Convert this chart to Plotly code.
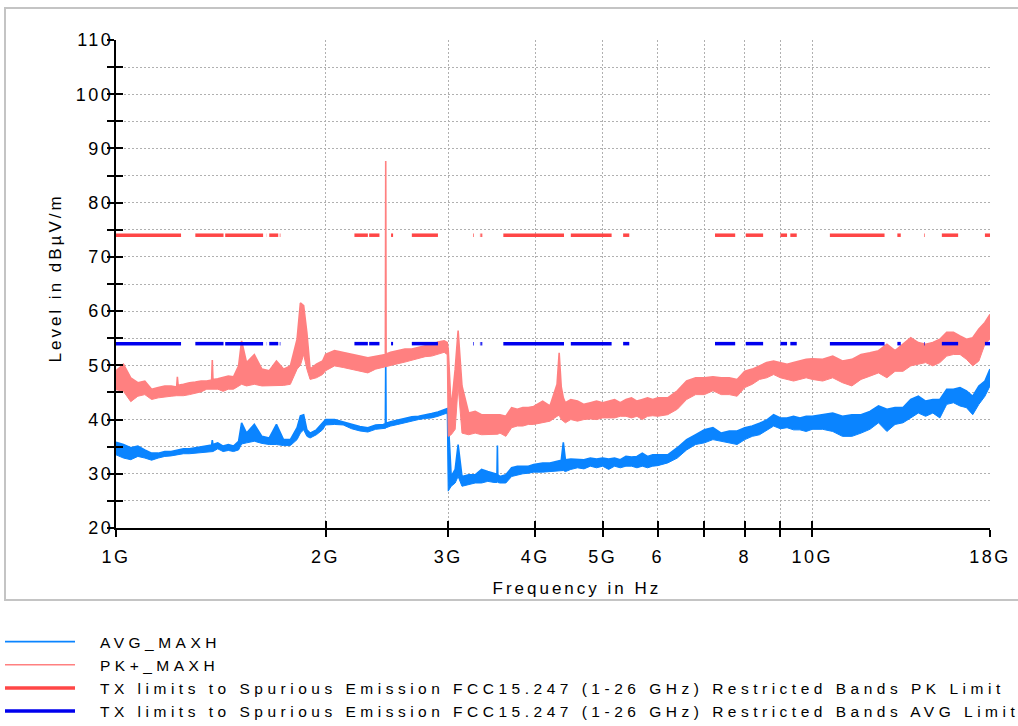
import numpy as np
import plotly.graph_objects as go

# ---------------- data ----------------
freq_ghz = [
    1.000, 1.025, 1.050, 1.075, 1.100, 1.125, 1.150, 1.175, 1.200,
    1.222, 1.225, 1.228, 1.250, 1.275, 1.300, 1.325, 1.350, 1.372, 1.375, 1.378, 1.400, 1.425, 1.450, 1.475,
    1.500, 1.515, 1.540, 1.580, 1.620, 1.660, 1.700, 1.740, 1.780, 1.820, 1.840, 1.860, 1.880, 1.900, 1.940, 1.980,
    2.000, 2.060, 2.120, 2.180, 2.240, 2.300, 2.360, 2.420,
    2.437, 2.440, 2.443, 2.480, 2.540, 2.600, 2.660, 2.720, 2.780, 2.840, 2.900, 2.960, 2.990,
    3.000, 3.030, 3.070, 3.100, 3.140, 3.210, 3.280, 3.350, 3.420, 3.490,
    3.525, 3.530, 3.535, 3.560, 3.630, 3.700, 3.770, 3.840, 3.910, 3.980,
    4.100, 4.200, 4.300, 4.330, 4.360, 4.390, 4.420,
    4.5, 4.6, 4.7, 4.8, 4.9, 5.0, 5.1, 5.2, 5.3, 5.4, 5.5, 5.6, 5.7, 5.8, 5.9, 6.0,
    6.2, 6.4, 6.6, 6.8, 7.0, 7.2, 7.4, 7.6, 7.8, 8.0, 8.2, 8.4, 8.6, 8.8, 9.0, 9.2, 9.4, 9.6, 9.8, 10.0,
    10.35, 10.7, 11.05, 11.4, 11.75, 12.1, 12.45, 12.8, 13.15, 13.5, 13.85, 14.2, 14.55, 14.9, 15.25,
    15.6, 15.95, 16.3, 16.65, 17.0, 17.35, 17.7, 18.0,
]

# PK+_MAXH trace: upper / lower edge of the noisy band (dBuV/m)
pk_hi = [
    49.0, 50.2, 47.7, 46.8, 47.1, 45.6, 45.9, 46.2, 46.2,
    46.0, 47.9, 46.3, 46.5, 46.8, 46.9, 47.1, 47.1, 47.3, 51.0, 47.4, 47.5, 47.7, 48.0, 47.9,
    49.9, 54.5, 50.5, 52.0, 49.3, 49.0, 50.8, 49.3, 49.9, 54.8, 61.5, 61.0, 56.0, 49.3, 50.2, 50.8,
    52.0, 52.7, 52.4, 52.0, 51.7, 51.4, 51.7, 52.0,
    52.0, 87.7, 52.1, 52.4, 52.7, 53.0, 53.0, 53.3, 53.6, 53.7, 54.3, 54.5, 54.2,
    53.0, 41.9, 49.3, 56.4, 46.2, 41.2, 41.5, 40.9, 40.9, 40.9,
    41.0, 41.0, 41.0, 40.9, 40.6, 42.2, 41.9, 42.2, 42.2, 42.4,
    43.4, 42.5, 46.5, 52.3, 46.0, 44.0, 43.1,
    43.7, 43.4, 42.8, 43.1, 43.4, 43.1, 43.4, 43.7, 43.1, 43.7, 44.0, 43.4, 43.7, 44.0, 43.7, 44.0,
    44.0, 45.3, 47.1, 47.7, 47.7, 47.9, 47.7, 47.7, 47.4, 48.9, 49.3, 49.9, 50.5, 50.8, 50.5, 50.2, 50.5, 50.8, 51.1, 51.2,
    51.1, 51.7, 50.8, 51.1, 52.0, 52.3, 52.7, 53.9, 52.7, 53.9, 55.1, 54.2, 53.9, 54.2, 54.8,
    56.1, 56.1, 55.4, 54.8, 55.1, 56.7, 57.9, 59.4,
]
pk_lo = [
    45.5, 45.2, 43.3, 44.3, 44.6, 43.7, 44.0, 44.2, 44.3,
    44.4, 44.4, 44.4, 44.4, 44.6, 44.8, 45.1, 45.6, 45.6, 45.6, 45.6, 45.6, 45.2, 45.6, 45.6,
    46.2, 46.5, 46.2, 46.5, 46.2, 46.2, 46.2, 46.3, 46.5, 49.3, 50.0, 52.0, 49.3, 47.4, 47.7, 48.3,
    49.0, 49.9, 49.6, 49.3, 49.0, 48.6, 49.3, 49.6,
    49.7, 49.7, 49.7, 49.9, 50.3, 50.6, 50.9, 51.2, 51.6, 51.7, 52.0, 52.4, 52.0,
    36.9, 37.2, 38.2, 46.2, 37.5, 37.2, 37.5, 37.2, 37.2, 37.2,
    37.3, 37.3, 37.3, 37.5, 36.9, 38.5, 38.8, 38.8, 39.1, 39.1,
    39.4, 39.7, 40.6, 40.8, 40.0, 39.6, 39.4,
    40.0, 39.7, 40.0, 40.1, 40.0, 40.3, 40.3, 40.3, 40.6, 40.6, 40.3, 40.6, 40.0, 40.6, 40.7, 40.6,
    40.9, 41.9, 43.7, 44.6, 44.6, 45.3, 44.6, 44.6, 44.3, 45.9, 46.5, 47.4, 47.7, 48.3, 47.7, 47.4, 47.1, 47.4, 47.7, 47.4,
    47.1, 47.7, 46.8, 46.2, 47.4, 48.0, 48.6, 47.7, 48.9, 48.9, 49.9, 50.2, 50.5, 49.9, 50.5,
    51.7, 52.0, 52.0, 51.1, 49.9, 50.8, 53.9, 54.8,
]

# AVG_MAXH trace: upper / lower edge of the noisy band (dBuV/m)
avg_hi = [
    35.8, 35.4, 34.8, 35.1, 34.4, 33.8, 33.8, 34.1, 34.1,
    34.3, 34.4, 34.4, 34.6, 34.6, 34.8, 34.9, 35.1, 35.3, 36.2, 35.4, 35.7, 35.1, 35.4, 35.1,
    36.0, 39.4, 37.5, 39.1, 36.9, 36.6, 39.1, 36.3, 36.3, 38.5, 40.7, 40.9, 38.1, 37.5, 38.1, 39.4,
    40.0, 40.0, 39.6, 39.1, 38.7, 38.5, 39.0, 39.1,
    39.2, 51.0, 39.3, 39.6, 39.9, 40.2, 40.5, 40.6, 40.8, 41.1, 41.4, 41.8, 42.0,
    40.0, 29.5, 30.8, 35.4, 29.5, 29.8, 29.8, 30.8, 30.4, 30.1,
    29.9, 35.2, 29.8, 29.5, 29.8, 31.1, 31.4, 31.4, 31.4, 31.7,
    32.0, 32.0, 32.3, 32.4, 32.5, 35.8, 32.6,
    32.7, 32.6, 32.6, 32.9, 32.7, 32.9, 32.7, 32.9, 32.6, 33.2, 33.1, 33.2, 33.8, 33.2, 33.5, 33.5,
    33.5, 34.8, 36.3, 37.2, 38.1, 38.5, 37.5, 37.9, 37.9, 38.5, 38.8, 39.3, 39.9, 40.9, 40.3, 40.3, 40.6, 40.3, 40.6, 40.6,
    40.9, 41.2, 40.6, 40.9, 40.9, 41.5, 42.5, 41.9, 42.2, 42.2, 43.7, 44.3, 43.4, 43.7, 43.7,
    45.6, 45.6, 45.9, 45.3, 44.3, 46.2, 47.1, 49.3,
]
avg_lo = [
    33.5, 32.9, 32.6, 33.2, 32.9, 32.5, 32.9, 33.2, 33.3,
    33.5, 33.5, 33.5, 33.7, 33.7, 33.8, 33.8, 34.0, 34.1, 34.1, 34.1, 34.6, 34.1, 34.3, 34.1,
    34.4, 35.5, 35.7, 36.0, 35.6, 35.4, 35.4, 35.2, 35.2, 36.3, 37.5, 38.1, 36.9, 36.6, 37.2, 38.1,
    39.0, 39.1, 39.0, 38.3, 37.9, 37.7, 38.2, 38.3,
    38.4, 38.4, 38.5, 38.8, 39.1, 39.4, 39.8, 40.0, 40.2, 40.3, 40.6, 41.0, 41.2,
    26.8, 27.7, 28.3, 29.5, 27.7, 28.0, 28.3, 28.3, 28.6, 28.4,
    28.4, 29.0, 28.4, 28.3, 28.3, 29.5, 29.8, 30.0, 30.1, 30.3,
    30.3, 30.4, 30.4, 30.5, 30.5, 30.6, 30.4,
    30.8, 31.1, 30.9, 31.4, 31.1, 31.4, 30.8, 31.4, 31.1, 31.4, 31.4, 31.1, 31.4, 31.1, 31.4, 31.5,
    32.0, 32.9, 34.4, 35.4, 35.7, 36.3, 36.0, 35.7, 35.4, 36.3, 36.9, 37.2, 38.0, 38.8, 38.3, 38.5, 38.1, 38.1, 37.8, 38.2,
    38.2, 37.8, 36.9, 36.9, 37.5, 38.2, 39.4, 37.8, 39.1, 39.4, 40.3, 41.2, 40.6, 41.2, 40.3,
    42.8, 43.1, 42.5, 42.2, 40.9, 42.8, 44.3, 46.2,
]

# FCC restricted bands (GHz) where the limit lines are drawn
band_start_ghz = [1.0, 1.3, 1.435, 1.6455, 1.66, 1.7188, 2.2, 2.31, 2.4835, 2.66, 3.26, 3.332, 3.3458,
                  3.6, 4.5, 5.35, 7.25, 8.025, 9.0, 9.3, 10.6, 13.25, 14.47, 15.35, 17.7]
band_stop_ghz = [1.24, 1.427, 1.6265, 1.6465, 1.71, 1.7222, 2.3, 2.39, 2.5, 2.9, 3.267, 3.339, 3.358,
                 4.4, 5.15, 5.46, 7.75, 8.5, 9.2, 9.5, 12.7, 13.4, 14.5, 16.2, 18.0]
pk_limit_db = 74
avg_limit_db = 54

y_tick_vals = [20, 25, 30, 35, 40, 45, 50, 55, 60, 65, 70, 75, 80, 85, 90, 95, 100, 105, 110]
y_tick_text = ["20", "", "30", "", "40", "", "50", "", "60", "", "70", "", "80", "", "90", "", "100", "", "110"]
x_tick_vals = [1, 2, 3, 4, 5, 6, 7, 8, 9, 10, 18]
x_tick_text = ["1G", "2G", "3G", "4G", "5G", "6", "", "8", "", "10G", "18G"]

series_names = [
    "AVG_MAXH",
    "PK+_MAXH",
    "TX limits to Spurious Emission FCC15.247 (1-26 GHz) Restricted Bands PK Limit",
    "TX limits to Spurious Emission FCC15.247 (1-26 GHz) Restricted Bands AVG Limit",
]

for arr in (pk_hi, pk_lo, avg_hi, avg_lo):
    assert len(arr) == len(freq_ghz), (len(arr), len(freq_ghz))

# ---------------- styling ----------------
C_AVG = "#0A84FF"
C_PK = "#FF8080"
C_PKLIM = "#FF4646"
C_AVGLIM = "#0000EE"
FONT = "Liberation Sans, Arial, sans-serif"

# plot area in pixels
L, R, T, B = 116, 28, 40, 198
W, H = 1018 - L - R, 726 - T - B


def px_x(px):
    return (px - L) / W


def px_y(py):
    return (726 - B - py) / H


def limit_xy(level):
    xs, ys = [], []
    for a, b in zip(band_start_ghz, band_stop_ghz):
        xs += [a, b, None]
        ys += [level, level, None]
    return xs, ys


fig = go.Figure()

# AVG trace band
fig.add_trace(go.Scatter(x=freq_ghz, y=avg_hi, mode="lines", name=series_names[0],
                         line=dict(color=C_AVG, width=1.6), legendgroup="avg"))
fig.add_trace(go.Scatter(x=freq_ghz, y=avg_lo, mode="lines", name=series_names[0],
                         line=dict(color=C_AVG, width=1), fill="tonexty", fillcolor=C_AVG,
                         showlegend=False, legendgroup="avg"))
# PK trace band
fig.add_trace(go.Scatter(x=freq_ghz, y=pk_hi, mode="lines", name=series_names[1],
                         line=dict(color=C_PK, width=1.6), legendgroup="pk"))
fig.add_trace(go.Scatter(x=freq_ghz, y=pk_lo, mode="lines", name=series_names[1],
                         line=dict(color=C_PK, width=1), fill="tonexty", fillcolor=C_PK,
                         showlegend=False, legendgroup="pk"))
# limit lines
lx, ly = limit_xy(pk_limit_db)
fig.add_trace(go.Scatter(x=lx, y=ly, mode="lines", name=series_names[2],
                         line=dict(color=C_PKLIM, width=3.5), connectgaps=False))
lx, ly = limit_xy(avg_limit_db)
fig.add_trace(go.Scatter(x=lx, y=ly, mode="lines", name=series_names[3],
                         line=dict(color=C_AVGLIM, width=3.5), connectgaps=False))
# empty trace so the overlay axes (inner half of the crossing ticks) get drawn
fig.add_trace(go.Scatter(x=[None], y=[None], xaxis="x2", yaxis="y2", mode="lines",
                         showlegend=False, hoverinfo="skip"))

xrange = [0, float(np.log10(18))]
grid = dict(showgrid=True, gridcolor="#b0b0b0", gridwidth=1, griddash="2px,2px")
tickfont = dict(family=FONT, size=18, color="black")

fig.update_layout(
    width=1018, height=726,
    margin=dict(l=L, r=R, t=T, b=B, autoexpand=False),
    paper_bgcolor="white", plot_bgcolor="white",
    showlegend=True,
    legend=dict(x=px_x(0), y=px_y(625), xanchor="left", yanchor="top",
                itemwidth=70, font=dict(family=FONT, size=15.5, color="black"),
                bgcolor="rgba(0,0,0,0)", borderwidth=0, tracegroupgap=0,
                traceorder="normal"),
    xaxis=dict(type="log", range=xrange, tickvals=x_tick_vals, ticktext=x_tick_text,
               ticks="outside", ticklen=7, tickwidth=2, tickcolor="black",
               showline=True, linecolor="black", linewidth=2, zeroline=False,
               tickfont=tickfont, ticklabelstandoff=4, **grid),
    xaxis2=dict(type="log", range=xrange, overlaying="x", anchor="y", side="bottom",
                tickvals=x_tick_vals, ticks="inside", ticklen=7, tickwidth=2,
                tickcolor="black", showticklabels=False, showgrid=False,
                showline=False, zeroline=False),
    yaxis=dict(range=[20, 110], tickvals=y_tick_vals, ticktext=y_tick_text,
               ticks="outside", ticklen=7, tickwidth=2, tickcolor="black",
               showline=True, linecolor="black", linewidth=2, zeroline=False,
               tickfont=tickfont, ticklabelstandoff=-10, automargin=False, **grid),
    yaxis2=dict(range=[20, 110], overlaying="y", anchor="x", side="left",
                tickvals=y_tick_vals, ticks="inside", ticklen=7, tickwidth=2,
                tickcolor="black", showticklabels=False, showgrid=False,
                showline=False, zeroline=False),
    shapes=[dict(type="rect", xref="paper", yref="paper",
                 x0=px_x(5), x1=px_x(1030), y0=px_y(600), y1=px_y(8),
                 line=dict(color="#c4c4c4", width=2), layer="below")],
    annotations=[
        dict(text="Frequency in Hz", xref="paper", yref="paper",
             x=px_x(577), y=px_y(588), xanchor="center", yanchor="middle",
             showarrow=False, font=dict(family=FONT, size=17, color="black")),
        dict(text="Level in dBµV/m", xref="paper", yref="paper", textangle=-90,
             x=px_x(55), y=px_y(278), xanchor="center", yanchor="middle",
             showarrow=False, font=dict(family=FONT, size=17, color="black")),
    ],
)

post = """
var gd = document.getElementById('{plot_id}');
function tweak(){
  gd.querySelectorAll('text').forEach(function(t){ t.style.letterSpacing = '3px'; });
  gd.querySelectorAll('.xtick text, .ytick text').forEach(function(t){ t.style.letterSpacing = '2.5px'; });
  gd.querySelectorAll('.legendtext').forEach(function(t){ t.style.letterSpacing = '4.5px'; });
  gd.querySelectorAll('.legend .scrollbox, .legend [clip-path]').forEach(function(e){ e.removeAttribute('clip-path'); });
  gd.querySelectorAll('.legendtext').forEach(function(t){
    if(!t.dataset.shifted){ t.setAttribute('x', parseFloat(t.getAttribute('x')) + 20); t.dataset.shifted = '1'; }
  });
}
tweak();
"""

fig.write_html("out.html", post_script=post)
